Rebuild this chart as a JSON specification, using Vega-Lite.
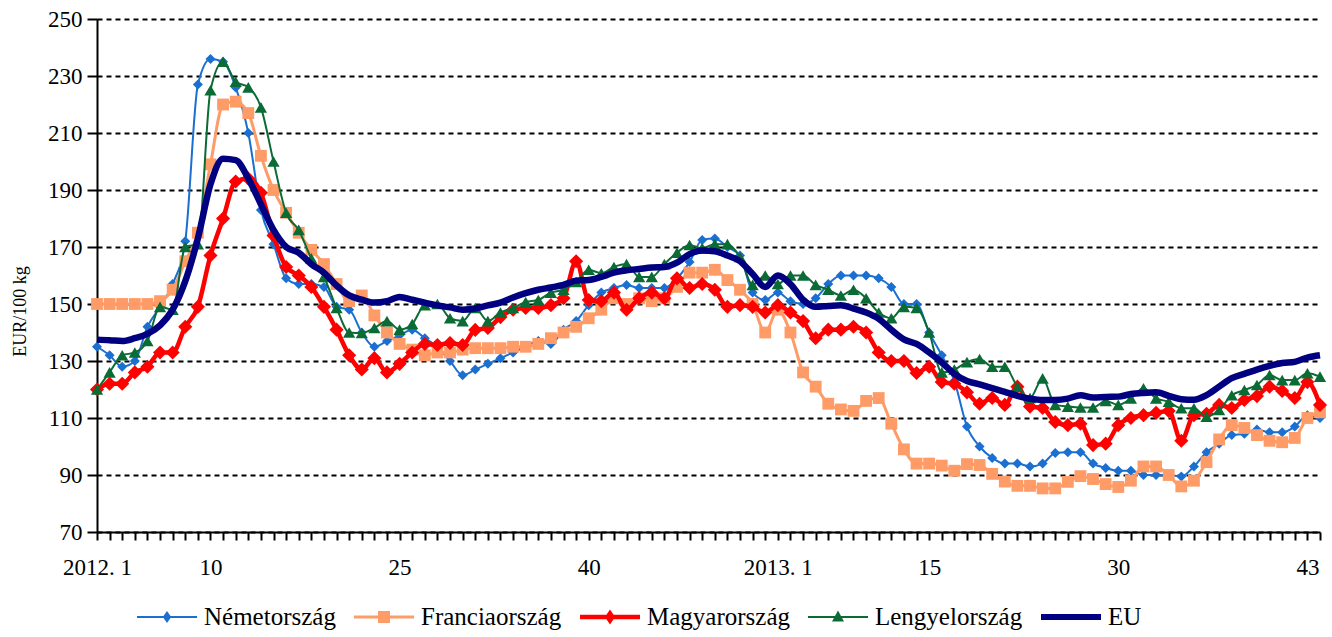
{
  "$schema": "https://vega.github.io/schema/vega-lite/v6.json",
  "width": 1223,
  "height": 513,
  "autosize": {"type": "none"},
  "padding": {"left": 97, "top": 19, "right": 12, "bottom": 105},
  "background": "white",
  "config": {
    "view": {"stroke": null},
    "font": "Liberation Serif",
    "axis": {"labelFont": "Liberation Serif", "titleFont": "Liberation Serif", "labelColor": "black", "titleColor": "black"},
    "legend": {"labelFont": "Liberation Serif"}
  },
  "data": {"values": [
    {"w":0,"Németország":135,"Franciaország":150,"Magyarország":120,"Lengyelország":120,"EU":137.5},
    {"w":1,"Németország":132,"Franciaország":150,"Magyarország":122,"Lengyelország":126,"EU":137.3},
    {"w":2,"Németország":128,"Franciaország":150,"Magyarország":122,"Lengyelország":132,"EU":137},
    {"w":3,"Németország":130,"Franciaország":150,"Magyarország":126,"Lengyelország":133,"EU":138},
    {"w":4,"Németország":142,"Franciaország":150,"Magyarország":128,"Lengyelország":137,"EU":139.5},
    {"w":5,"Németország":149,"Franciaország":151,"Magyarország":133,"Lengyelország":149,"EU":142.5},
    {"w":6,"Németország":157,"Franciaország":155,"Magyarország":133,"Lengyelország":148,"EU":148},
    {"w":7,"Németország":172,"Franciaország":165,"Magyarország":142,"Lengyelország":170,"EU":158},
    {"w":8,"Németország":227,"Franciaország":175,"Magyarország":149,"Lengyelország":171,"EU":173},
    {"w":9,"Németország":236,"Franciaország":199,"Magyarország":167,"Lengyelország":225,"EU":192},
    {"w":10,"Németország":235,"Franciaország":220,"Magyarország":180,"Lengyelország":235,"EU":201},
    {"w":11,"Németország":226,"Franciaország":221,"Magyarország":193,"Lengyelország":228,"EU":200.5},
    {"w":12,"Németország":210,"Franciaország":217,"Magyarország":194,"Lengyelország":226,"EU":194},
    {"w":13,"Németország":183,"Franciaország":202,"Magyarország":189,"Lengyelország":219,"EU":185},
    {"w":14,"Németország":171,"Franciaország":190,"Magyarország":174,"Lengyelország":200,"EU":176},
    {"w":15,"Németország":159,"Franciaország":182,"Magyarország":163,"Lengyelország":182,"EU":170},
    {"w":16,"Németország":157,"Franciaország":175,"Magyarország":160,"Lengyelország":176,"EU":168},
    {"w":17,"Németország":157,"Franciaország":169,"Magyarország":156,"Lengyelország":166,"EU":164},
    {"w":18,"Németország":156,"Franciaország":164,"Magyarország":149,"Lengyelország":159.5,"EU":161},
    {"w":19,"Németország":149,"Franciaország":157,"Magyarország":141,"Lengyelország":148.6,"EU":156.5},
    {"w":20,"Németország":148,"Franciaország":151,"Magyarország":132,"Lengyelország":140,"EU":153},
    {"w":21,"Németország":140,"Franciaország":153,"Magyarország":127,"Lengyelország":139.8,"EU":151.5},
    {"w":22,"Németország":135,"Franciaország":146,"Magyarország":131,"Lengyelország":141.6,"EU":150.5},
    {"w":23,"Németország":137,"Franciaország":140,"Magyarország":126,"Lengyelország":144,"EU":151},
    {"w":24,"Németország":139,"Franciaország":136,"Magyarország":129,"Lengyelország":141,"EU":152.5},
    {"w":25,"Németország":141,"Franciaország":134,"Magyarország":133,"Lengyelország":143,"EU":151.5},
    {"w":26,"Németország":138,"Franciaország":132,"Magyarország":136,"Lengyelország":149.6,"EU":150.5},
    {"w":27,"Németország":135,"Franciaország":133,"Magyarország":135.6,"Lengyelország":150,"EU":149.5},
    {"w":28,"Németország":130,"Franciaország":133,"Magyarország":136.3,"Lengyelország":145,"EU":148.8},
    {"w":29,"Németország":125,"Franciaország":134,"Magyarország":135.6,"Lengyelország":144,"EU":148},
    {"w":30,"Németország":127,"Franciaország":134.5,"Magyarország":140.9,"Lengyelország":148.6,"EU":148.4},
    {"w":31,"Németország":129,"Franciaország":134.5,"Magyarország":141.6,"Lengyelország":144,"EU":149.5},
    {"w":32,"Németország":131,"Franciaország":134.5,"Magyarország":145.4,"Lengyelország":147,"EU":150.5},
    {"w":33,"Németország":133,"Franciaország":135,"Magyarország":148,"Lengyelország":148.6,"EU":152.3},
    {"w":34,"Németország":135,"Franciaország":135,"Magyarország":148.6,"Lengyelország":150.7,"EU":153.8},
    {"w":35,"Németország":137,"Franciaország":136,"Magyarország":148.6,"Lengyelország":151.4,"EU":155},
    {"w":36,"Németország":136,"Franciaország":138,"Magyarország":149.6,"Lengyelország":154,"EU":155.8},
    {"w":37,"Németország":141,"Franciaország":140,"Magyarország":152,"Lengyelország":155,"EU":156.7},
    {"w":38,"Németország":144,"Franciaország":142,"Magyarország":165,"Lengyelország":157.7,"EU":158.2},
    {"w":39,"Németország":149.6,"Franciaország":145,"Magyarország":151.4,"Lengyelország":162,"EU":158.4},
    {"w":40,"Németország":154,"Franciaország":148,"Magyarország":151,"Lengyelország":160.8,"EU":159.5},
    {"w":41,"Németország":155.6,"Franciaország":152,"Magyarország":154,"Lengyelország":163,"EU":161},
    {"w":42,"Németország":156.7,"Franciaország":150,"Magyarország":148,"Lengyelország":164,"EU":161.8},
    {"w":43,"Németország":155.6,"Franciaország":152,"Magyarország":152,"Lengyelország":159.5,"EU":162.3},
    {"w":44,"Németország":155.6,"Franciaország":151,"Magyarország":154,"Lengyelország":159.5,"EU":162.8},
    {"w":45,"Németország":155.6,"Franciaország":152,"Magyarország":152,"Lengyelország":164,"EU":163},
    {"w":46,"Németország":159,"Franciaország":156,"Magyarország":159,"Lengyelország":168,"EU":164.5},
    {"w":47,"Németország":164.7,"Franciaország":161,"Magyarország":155.6,"Lengyelország":170.7,"EU":167.5},
    {"w":48,"Németország":172.5,"Franciaország":161,"Magyarország":157,"Lengyelország":169.6,"EU":168.8},
    {"w":49,"Németország":173,"Franciaország":162,"Magyarország":155,"Lengyelország":171,"EU":168.5},
    {"w":50,"Németország":170,"Franciaország":158.4,"Magyarország":149,"Lengyelország":171,"EU":167},
    {"w":51,"Németország":167,"Franciaország":155,"Magyarország":149.6,"Lengyelország":166.5,"EU":165},
    {"w":52,"Németország":154,"Franciaország":150,"Magyarország":149,"Lengyelország":156.7,"EU":160.5},
    {"w":53,"Németország":151.4,"Franciaország":140,"Magyarország":147,"Lengyelország":160,"EU":156},
    {"w":54,"Németország":154,"Franciaország":148,"Magyarország":149.6,"Lengyelország":157,"EU":160},
    {"w":55,"Németország":151,"Franciaország":140,"Magyarország":147,"Lengyelország":160,"EU":157},
    {"w":56,"Németország":150,"Franciaország":126,"Magyarország":144,"Lengyelország":160,"EU":151.5},
    {"w":57,"Németország":152,"Franciaország":121,"Magyarország":138,"Lengyelország":156.7,"EU":149},
    {"w":58,"Németország":157,"Franciaország":115,"Magyarország":141,"Lengyelország":155,"EU":149.3},
    {"w":59,"Németország":160,"Franciaország":113,"Magyarország":141,"Lengyelország":153,"EU":149.6},
    {"w":60,"Németország":160,"Franciaország":112.5,"Magyarország":142,"Lengyelország":155,"EU":148.4},
    {"w":61,"Németország":160,"Franciaország":116,"Magyarország":140,"Lengyelország":152,"EU":147},
    {"w":62,"Németország":159,"Franciaország":117,"Magyarország":133,"Lengyelország":147,"EU":144.8},
    {"w":63,"Németország":156,"Franciaország":108,"Magyarország":130,"Lengyelország":145,"EU":141},
    {"w":64,"Németország":150,"Franciaország":99,"Magyarország":130,"Lengyelország":149,"EU":137.6},
    {"w":65,"Németország":150,"Franciaország":94,"Magyarország":125.8,"Lengyelország":148.6,"EU":136},
    {"w":66,"Németország":140,"Franciaország":94,"Magyarország":128,"Lengyelország":140,"EU":133},
    {"w":67,"Németország":132,"Franciaország":93.3,"Magyarország":122.6,"Lengyelország":126,"EU":129.5},
    {"w":68,"Németország":123,"Franciaország":91.5,"Magyarország":122,"Lengyelország":127,"EU":125.5},
    {"w":69,"Németország":107,"Franciaország":93.8,"Magyarország":119,"Lengyelország":129.6,"EU":123},
    {"w":70,"Németország":100,"Franciaország":93.5,"Magyarország":115,"Lengyelország":130.7,"EU":121.8},
    {"w":71,"Németország":96,"Franciaország":90.4,"Magyarország":117,"Lengyelország":128,"EU":120.5},
    {"w":72,"Németország":94,"Franciaország":87.7,"Magyarország":114.6,"Lengyelország":128,"EU":119.2},
    {"w":73,"Németország":94,"Franciaország":86.2,"Magyarország":121,"Lengyelország":121,"EU":117.8},
    {"w":74,"Németország":93,"Franciaország":86.2,"Magyarország":114,"Lengyelország":117,"EU":116.8},
    {"w":75,"Németország":94,"Franciaország":85.3,"Magyarország":113.5,"Lengyelország":123.9,"EU":116.3},
    {"w":76,"Németország":97.7,"Franciaország":85.3,"Magyarország":108.6,"Lengyelország":114.6,"EU":116.3},
    {"w":77,"Németország":98,"Franciaország":87.6,"Magyarország":107.5,"Lengyelország":114,"EU":116.8},
    {"w":78,"Németország":98,"Franciaország":89.6,"Magyarország":108,"Lengyelország":113.7,"EU":118},
    {"w":79,"Németország":94,"Franciaország":88.6,"Magyarország":100.5,"Lengyelország":113.7,"EU":117.2},
    {"w":80,"Németország":92.5,"Franciaország":86.8,"Magyarország":101,"Lengyelország":116,"EU":117.4},
    {"w":81,"Németország":91.5,"Franciaország":85.8,"Magyarország":107.5,"Lengyelország":114.6,"EU":117.5},
    {"w":82,"Németország":91.5,"Franciaország":88,"Magyarország":110,"Lengyelország":116.9,"EU":118.4},
    {"w":83,"Németország":90,"Franciaország":93,"Magyarország":111,"Lengyelország":120.4,"EU":118.8},
    {"w":84,"Németország":90,"Franciaország":93,"Magyarország":111.8,"Lengyelország":116.9,"EU":119},
    {"w":85,"Németország":90,"Franciaország":90,"Magyarország":112.5,"Lengyelország":115.7,"EU":117.8},
    {"w":86,"Németország":89.5,"Franciaország":86,"Magyarország":102,"Lengyelország":113.4,"EU":116.6},
    {"w":87,"Németország":93,"Franciaország":88,"Magyarország":111,"Lengyelország":113.4,"EU":116.4},
    {"w":88,"Németország":98,"Franciaország":94.5,"Magyarország":111.5,"Lengyelország":110.5,"EU":118},
    {"w":89,"Németország":101,"Franciaország":102.5,"Magyarország":114.6,"Lengyelország":112.8,"EU":121},
    {"w":90,"Németország":104,"Franciaország":107.5,"Magyarország":113.5,"Lengyelország":118,"EU":124},
    {"w":91,"Németország":104.5,"Franciaország":106.5,"Magyarország":116.3,"Lengyelország":119.8,"EU":125.5},
    {"w":92,"Németország":106,"Franciaország":104,"Magyarország":117.7,"Lengyelország":121.6,"EU":127},
    {"w":93,"Németország":105,"Franciaország":102,"Magyarország":121,"Lengyelország":125.1,"EU":128.3},
    {"w":94,"Németország":105,"Franciaország":101.5,"Magyarország":119.5,"Lengyelország":123.3,"EU":129.3},
    {"w":95,"Németország":107,"Franciaország":103,"Magyarország":117,"Lengyelország":123.3,"EU":129.7},
    {"w":96,"Németország":111,"Franciaország":110,"Magyarország":122.6,"Lengyelország":125.7,"EU":131.2},
    {"w":97,"Németország":110,"Franciaország":112,"Magyarország":114.6,"Lengyelország":124.5,"EU":132}
  ]},
  "transform": [
    {"fold": ["Németország", "Franciaország", "Magyarország", "Lengyelország", "EU"], "as": ["s", "v"]}
  ],
  "encoding": {
    "x": {
      "field": "w", "type": "quantitative",
      "scale": {"domain": [0, 97], "nice": false, "zero": false},
      "axis": {
        "title": null,
        "values": [0,1,2,3,4,5,6,7,8,9,10,11,12,13,14,15,16,17,18,19,20,21,22,23,24,25,26,27,28,29,30,31,32,33,34,35,36,37,38,39,40,41,42,43,44,45,46,47,48,49,50,51,52,53,54,55,56,57,58,59,60,61,62,63,64,65,66,67,68,69,70,71,72,73,74,75,76,77,78,79,80,81,82,83,84,85,86,87,88,89,90,91,92,93,94,95,96,97],
        "labelExpr": "datum.value == 0 ? '2012. 1' : datum.value == 9 ? '10' : datum.value == 24 ? '25' : datum.value == 39 ? '40' : datum.value == 54 ? '2013. 1' : datum.value == 66 ? '15' : datum.value == 81 ? '30' : datum.value == 96 ? '43' : ''",
        "labelOverlap": false, "labelFlush": false, "labelBound": false,
        "labelFontSize": 23, "labelPadding": 16,
        "tickSize": 8, "tickWidth": 2, "tickColor": "black",
        "domainColor": "black", "domainWidth": 2,
        "grid": false
      }
    },
    "y": {
      "field": "v", "type": "quantitative",
      "scale": {"domain": [70, 250], "nice": false, "zero": false},
      "axis": {
        "values": [70, 90, 110, 130, 150, 170, 190, 210, 230, 250],
        "title": "EUR/100 kg", "titleFontSize": 18, "titleFontWeight": "normal",
        "titleAngle": 270, "titleX": -77, "titleY": 292, "titleAlign": "center", "titleBaseline": "middle",
        "labelFontSize": 23, "labelPadding": 5,
        "tickSize": 10, "tickWidth": 2, "tickColor": "black",
        "domainColor": "black", "domainWidth": 2,
        "grid": true, "gridColor": "black", "gridDash": [5, 4], "gridWidth": 2
      }
    }
  },
  "layer": [
    {"transform": [{"filter": "datum.s == 'Németország'"}],
     "mark": {"type": "line", "color": "#1A6FD0", "strokeWidth": 2, "interpolate": "monotone"}},
    {"transform": [{"filter": "datum.s == 'Németország'"}],
     "mark": {"type": "point", "shape": "diamond", "filled": true, "opacity": 1, "color": "#1A6FD0", "size": 100}},
    {"transform": [{"filter": "datum.s == 'Franciaország'"}],
     "mark": {"type": "line", "color": "#FF9B66", "strokeWidth": 3, "interpolate": "monotone"}},
    {"transform": [{"filter": "datum.s == 'Franciaország'"}],
     "mark": {"type": "point", "shape": "square", "filled": true, "opacity": 1, "color": "#FF9B66", "size": 140}},
    {"transform": [{"filter": "datum.s == 'Magyarország'"}],
     "mark": {"type": "line", "color": "#FF0000", "strokeWidth": 4.5, "interpolate": "monotone"}},
    {"transform": [{"filter": "datum.s == 'Magyarország'"}],
     "mark": {"type": "point", "shape": "diamond", "filled": true, "opacity": 1, "color": "#FF0000", "size": 200}},
    {"transform": [{"filter": "datum.s == 'Lengyelország'"}],
     "mark": {"type": "line", "color": "#0B6B35", "strokeWidth": 2, "interpolate": "monotone"}},
    {"transform": [{"filter": "datum.s == 'Lengyelország'"}],
     "mark": {"type": "point", "shape": "triangle-up", "filled": true, "opacity": 1, "color": "#0B6B35", "size": 150}},
    {"transform": [{"filter": "datum.s == 'EU'"}],
     "mark": {"type": "line", "color": "#000080", "strokeWidth": 6.5, "interpolate": "monotone"}},
    {"transform": [{"filter": "false"}],
     "mark": {"type": "point", "filled": true, "opacity": 1, "size": 3600},
     "encoding": {
       "color": {
         "field": "s", "type": "nominal",
         "scale": {"domain": ["Németország", "Franciaország", "Magyarország", "Lengyelország", "EU"],
                   "range": ["#1A6FD0", "#FF9B66", "#FF0000", "#0B6B35", "#000080"]},
         "legend": {
           "title": null, "orient": "none", "direction": "horizontal",
           "legendX": 40, "legendY": 568,
           "labelFontSize": 25, "labelColor": "black", "labelOffset": 7,
           "columnPadding": 18, "symbolStrokeWidth": 0, "symbolSize": 3600
         }
       },
       "shape": {
         "field": "s", "type": "nominal",
         "scale": {"domain": ["Németország", "Franciaország", "Magyarország", "Lengyelország", "EU"],
                   "range": [
                     "M-1,-0.035H1V0.035H-1Z M0,-0.2L0.14,0L0,0.2L-0.14,0Z",
                     "M-1,-0.05H1V0.05H-1Z M-0.2,-0.2H0.2V0.2H-0.2Z",
                     "M-1,-0.075H1V0.075H-1Z M0,-0.25L0.17,0L0,0.25L-0.17,0Z",
                     "M-1,-0.035H1V0.035H-1Z M0,-0.22L0.2,0.15L-0.2,0.15Z",
                     "M-1,-0.1H1V0.1H-1Z"
                   ]}
       }
     }}
  ]
}
